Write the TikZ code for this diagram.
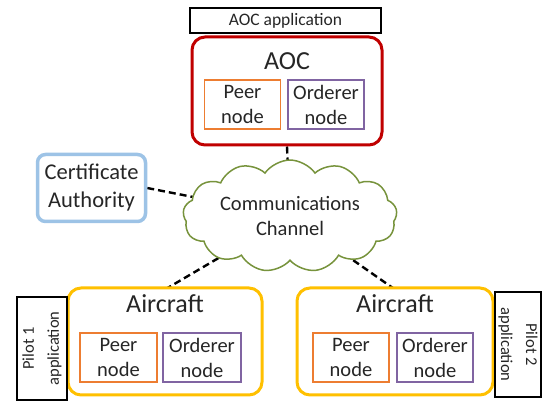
\documentclass[tikz,border=0pt]{standalone}
\usepackage{fontspec}
\setmainfont{Carlito}
\usetikzlibrary{shapes.symbols,backgrounds}
\definecolor{aocred}{HTML}{C00000}
\definecolor{peerorange}{HTML}{ED7D31}
\definecolor{ordpurple}{HTML}{8064A2}
\definecolor{cablue}{HTML}{9DC3E6}
\definecolor{cloudgreen}{HTML}{77933C}
\definecolor{acyellow}{HTML}{FFC000}
\definecolor{txt}{HTML}{262626}
\begin{document}
\begin{tikzpicture}[x=1pt,y=-1pt,
  every node/.style={text=txt,inner sep=0pt},
  bigbox/.style={draw,line width=3pt,rounded corners=13pt,fill=white},
  peerbox/.style={draw=peerorange,line width=1.4pt,minimum width=76pt,minimum height=49pt,align=center,font=\fontsize{20.5}{25}\selectfont},
  ordbox/.style={draw=ordpurple,line width=1.4pt,minimum width=76pt,minimum height=49pt,align=center,font=\fontsize{20.5}{25}\selectfont},
  appbox/.style={draw=black,line width=1.3pt,fill=white,align=center,font=\fontsize{17.5}{21}\selectfont},
  title/.style={font=\fontsize{26}{30}\selectfont},
  link/.style={draw=black,line width=2.4pt,dash pattern=on 7pt off 4pt}]
\useasboundingbox (0,0) rectangle (542,403);
% AOC
\node[appbox,minimum width=191pt,minimum height=25pt] (aocapp) at (285.5,20.5) {AOC application};
\node[bigbox,draw=aocred,minimum width=190pt,minimum height=108pt] (aoc) at (287,91) {};
\node[title] (aoct) at (287,61) {AOC};
\node[peerbox] (aocpeer) at (242.5,104.5) {Peer\\node};
\node[ordbox] (aocord) at (326,104.5) {Orderer\\node};
% CA
\node[draw=cablue,line width=3.5pt,rounded corners=8pt,fill=white,minimum width=108pt,minimum height=67pt,align=center,font=\fontsize{22.5}{28}\selectfont] (ca) at (91.5,188) {Certificate\\Authority};
% cloud
\node[cloud,cloud puffs=13,cloud puff arc=110,aspect=2.2,draw=cloudgreen,line width=1.5pt,fill=white,minimum width=214pt,minimum height=98pt,align=center,font=\fontsize{20.5}{25}\selectfont] (cloud) at (290,216) {Communications\\Channel};
% Aircraft 1
\node[bigbox,draw=acyellow,minimum width=194pt,minimum height=107pt] (ac1) at (165,341.5) {};
\node[title] (ac1t) at (165,304) {Aircraft};
\node[peerbox,minimum width=77pt] (ac1peer) at (118.5,357.5) {Peer\\node};
\node[ordbox,minimum width=78pt] (ac1ord) at (202,357.5) {Orderer\\node};
\node[appbox,minimum width=50pt,minimum height=103pt] (pil1) at (42,348.5) {};
\node[rotate=90,align=center,font=\fontsize{16.5}{25}\selectfont] (pil1t) at (pil1.center) {Pilot 1\\application};
% Aircraft 2
\node[bigbox,draw=acyellow,minimum width=196pt,minimum height=107pt] (ac2) at (395,341.5) {};
\node[title] (ac2t) at (395,304) {Aircraft};
\node[peerbox] (ac2peer) at (351,357.5) {Peer\\node};
\node[ordbox] (ac2ord) at (435,357.5) {Orderer\\node};
\node[appbox,minimum width=46pt,minimum height=105pt] (pil2) at (518,344.5) {};
\node[rotate=-90,align=center,font=\fontsize{16.5}{25}\selectfont] (pil2t) at (pil2.center) {Pilot 2\\application};
% links
\begin{pgfonlayer}{background}
\draw[link] (aoc.south) -- (cloud.center);
\draw[link] (ca.east) -- (cloud.center);
\draw[link] ([yshift=-3pt]ac1.north) -- (cloud.center);
\draw[link] ([yshift=-3pt]ac2.north) -- (cloud.center);
\end{pgfonlayer}
\end{tikzpicture}
\end{document}
